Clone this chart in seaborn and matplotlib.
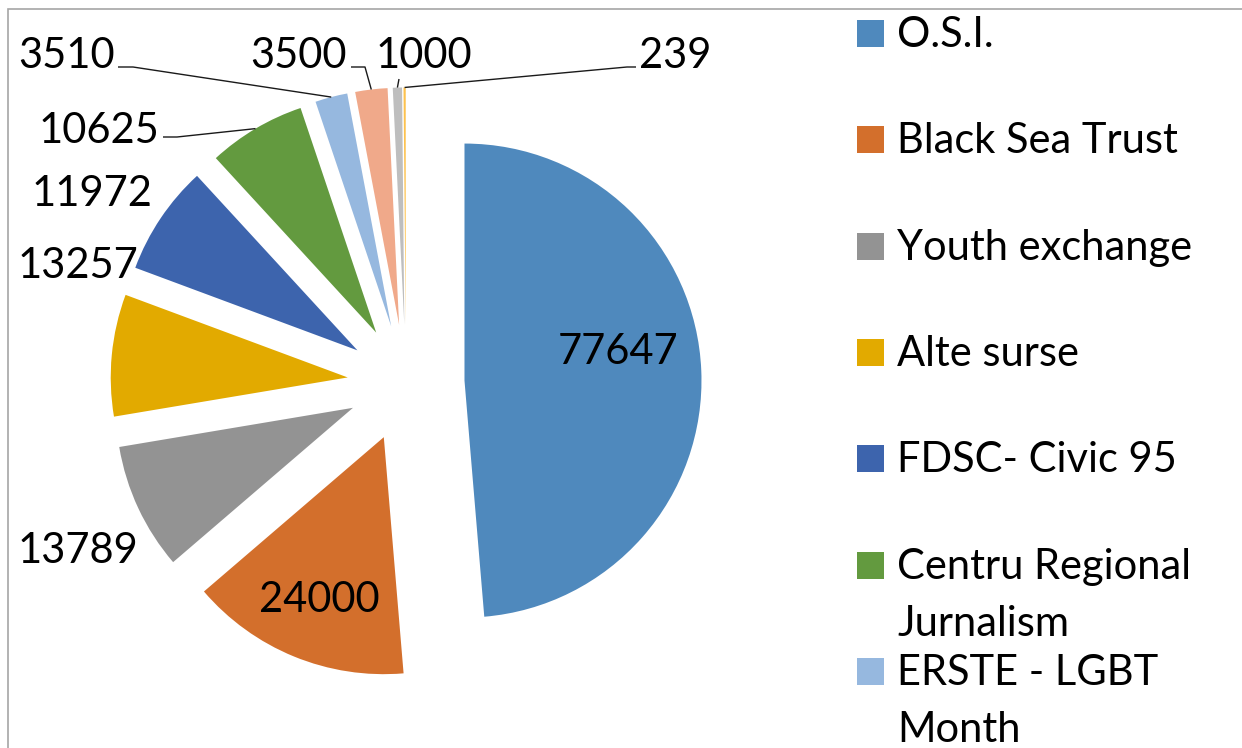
import matplotlib
matplotlib.use("Agg")
import matplotlib.pyplot as plt
import seaborn as sns
import numpy as np
from matplotlib.patches import Rectangle

# ---------------- data ----------------
categories = ["O.S.I.", "Black Sea Trust", "Youth exchange", "Alte surse",
              "FDSC- Civic 95", "Centru Regional\nJurnalism", "ERSTE - LGBT\nMonth"]
values = [77647, 24000, 13789, 13257, 11972, 10625, 3510, 3500, 1000, 239]
value_labels = [str(v) for v in values]
colors = ["#4F89BD", "#D36F2C", "#939393", "#E2AA00", "#3D64AD",
          "#639A3F", "#96B8DF", "#F0A98A", "#BEBEBE", "#FDC24E"]

# ---------------- layout (image pixel coords) ----------------
W, H, DPI = 1242, 748, 100
R_PX = 237            # pie radius in px
CX, CY = 406, 383     # pie centre in px
EXPLODE = 0.247
FS = 30

# label text anchor (x centre, baseline) and optional leader elbow points
label_layout = [
    dict(pos=(618, 364)),
    dict(pos=(319, 612)),
    dict(pos=(78, 563)),
    dict(pos=(78, 278)),
    dict(pos=(92, 206)),
    dict(pos=(99, 143), leader=[(163, 137), (177, 137)]),
    dict(pos=(67, 68), leader=[(118, 67), (133, 67)]),
    dict(pos=(298, 68), leader=[(351, 67), (365, 67)]),
    dict(pos=(424, 68), leader=[(399, 79)]),
    dict(pos=(675, 68), leader=[(636, 67), (627, 67)]),
]

sns.set_theme(style="white")
plt.rcParams["font.family"] = ["Lato", "DejaVu Sans"]

fig = plt.figure(figsize=(W / DPI, H / DPI), dpi=DPI)
fig.patch.set_facecolor("white")
ax = fig.add_axes([0, 0, 1, 1])

wedges, _ = ax.pie(values, colors=colors, startangle=90, counterclock=False,
                   explode=[EXPLODE] * len(values), radius=1,
                   wedgeprops=dict(linewidth=0))
ax.set_xlim(-CX / R_PX, (W - CX) / R_PX)
ax.set_ylim(-(H - CY) / R_PX, CY / R_PX)
ax.set_aspect("auto")
ax.axis("off")


def px2data(p):
    return ax.transData.inverted().transform((p[0], H - p[1]))


fig.canvas.draw()
for w, lab, lay in zip(wedges, value_labels, label_layout):
    x, y = px2data(lay["pos"])
    ax.text(x, y, lab, ha="center", va="baseline", fontsize=FS, color="black")
    if "leader" in lay:
        mid = np.deg2rad((w.theta1 + w.theta2) / 2)
        ox = w.center[0] + w.r * np.cos(mid)
        oy = w.center[1] + w.r * np.sin(mid)
        pts = [px2data(p) for p in lay["leader"]] + [(ox, oy)]
        xs, ys = zip(*pts)
        ax.plot(xs, ys, color="#1a1a1a", lw=1.0, solid_capstyle="butt")

# chart frame (partially outside the canvas)
fig.patches.append(Rectangle((7.5 / W, -0.1), 1.2, 1 - 9.5 / H + 0.1,
                             transform=fig.transFigure, fill=False,
                             edgecolor="#A6A6A6", lw=1.2))

# legend (manual, Excel style)
SQ = 27
LEG_X = 857
TXT_X = 897
LEG_TOP0 = 20
LEG_STEP = 106.3
LINE_H = 57
for i, (name, col) in enumerate(zip(categories, colors)):
    top = LEG_TOP0 + i * LEG_STEP
    fig.patches.append(Rectangle((LEG_X / W, 1 - (top + SQ) / H), SQ / W, SQ / H,
                                 transform=fig.transFigure, color=col, lw=0))
    for k, line in enumerate(name.split("\n")):
        base = top + SQ + k * LINE_H
        fig.text(TXT_X / W, 1 - base / H, line, ha="left", va="baseline",
                 fontsize=FS, color="black")

fig.savefig("out.png", dpi=DPI, facecolor="white")
